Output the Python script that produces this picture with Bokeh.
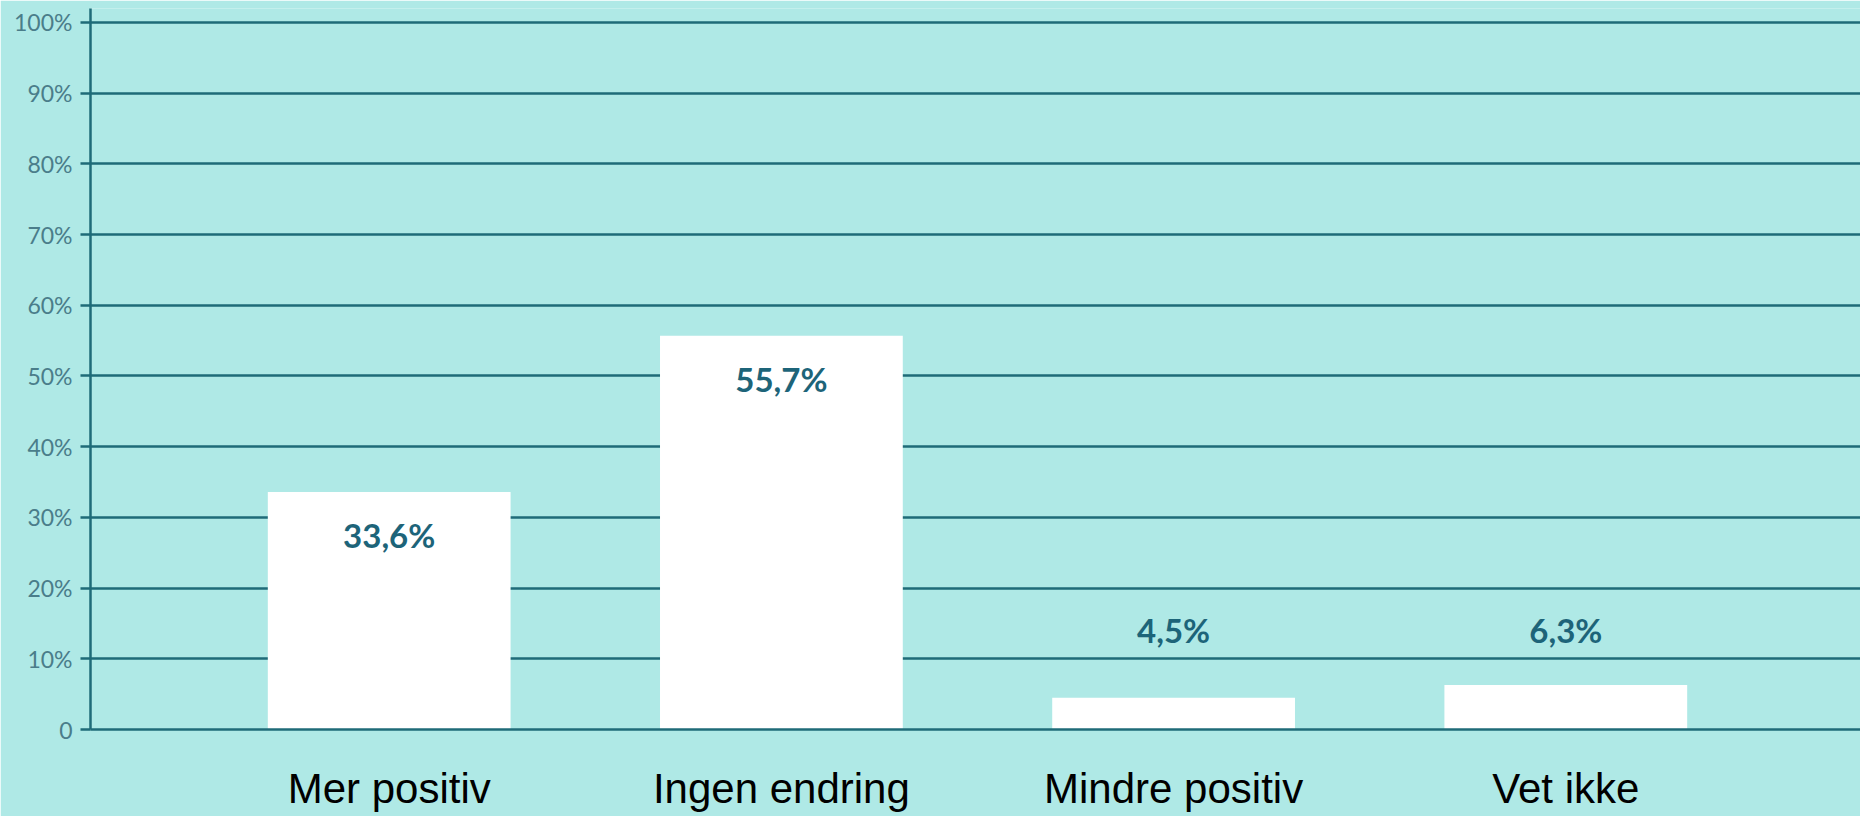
from bokeh.plotting import figure
from bokeh.models import ColumnDataSource, Range1d, FixedTicker
from bokeh.core.properties import value
from bokeh.embed import file_html
from bokeh.resources import INLINE

categories = ["Mer positiv", "Ingen endring", "Mindre positiv", "Vet ikke"]
values = [33.6, 55.7, 4.5, 6.3]
labels = ["33,6%", "55,7%", "4,5%", "6,3%"]
y_ticks = [0, 10, 20, 30, 40, 50, 60, 70, 80, 90, 100]
y_tick_labels = ["0", "10%", "20%", "30%", "40%", "50%", "60%", "70%", "80%", "90%", "100%"]

BG = "#afe9e6"
LINE = "#1f6b78"
LABEL = "#1d6479"

xs = list(range(len(categories)))
inside = [v >= 20 for v in values]
src_in = ColumnDataSource(dict(
    x=[x for x, f in zip(xs, inside) if f],
    y=[v for v, f in zip(values, inside) if f],
    t=[t for t, f in zip(labels, inside) if f],
))
src_out = ColumnDataSource(dict(
    x=[x for x, f in zip(xs, inside) if not f],
    y=[10 for f in inside if not f],
    t=[t for t, f in zip(labels, inside) if not f],
))
bars = ColumnDataSource(dict(x=xs, top=values))

p = figure(width=1860, height=816, output_backend="svg", toolbar_location=None,
           x_range=Range1d(-0.7616, 3.7514), y_range=Range1d(0, 101.98),
           min_border_left=90, min_border_right=0, min_border_top=8, min_border_bottom=87)
p.background_fill_color = BG
p.border_fill_color = BG
p.outline_line_color = None

p.vbar(x="x", top="top", width=0.619, bottom=0, source=bars,
       fill_color="white", line_color=None)

p.text(x="x", y="y", text="t", source=src_in, y_offset=43,
       text_align="center", text_baseline="middle",
       text_font=value("Lato"), text_font_style="bold", text_font_size="33px",
       text_color=LABEL)
p.text(x="x", y="y", text="t", source=src_out, y_offset=-29,
       text_align="center", text_baseline="middle",
       text_font=value("Lato"), text_font_style="bold", text_font_size="33px",
       text_color=LABEL)

# y axis
ya = p.yaxis[0]
ya.ticker = FixedTicker(ticks=y_ticks)
ya.major_label_overrides = {t: l for t, l in zip(y_ticks, y_tick_labels)}
ya.axis_line_color = LINE
ya.axis_line_width = 2.5
ya.major_tick_line_color = LINE
ya.major_tick_line_width = 2.5
ya.major_tick_out = 10
ya.major_tick_in = 0
ya.minor_tick_line_color = None
ya.major_label_standoff = 8
ya.major_label_text_font = "Lato"
ya.major_label_text_font_size = "23px"
ya.major_label_text_color = "#4a7d8a"

# x axis
xa = p.xaxis[0]
xa.ticker = FixedTicker(ticks=xs)
xa.major_label_overrides = {x: c for x, c in zip(xs, categories)}
xa.axis_line_color = LINE
xa.axis_line_width = 2.5
xa.major_tick_line_color = None
xa.minor_tick_line_color = None
xa.major_tick_out = 0
xa.major_tick_in = 0
xa.major_label_standoff = 35
xa.major_label_text_line_height = 1.0
xa.major_label_text_font = "Liberation Sans"
xa.major_label_text_font_size = "42px"
xa.major_label_text_color = "black"

p.xgrid.grid_line_color = None
p.ygrid.ticker = FixedTicker(ticks=y_ticks)
p.ygrid.grid_line_color = LINE
p.ygrid.grid_line_width = 2.5

open("out.html", "w").write(file_html(p, INLINE))
